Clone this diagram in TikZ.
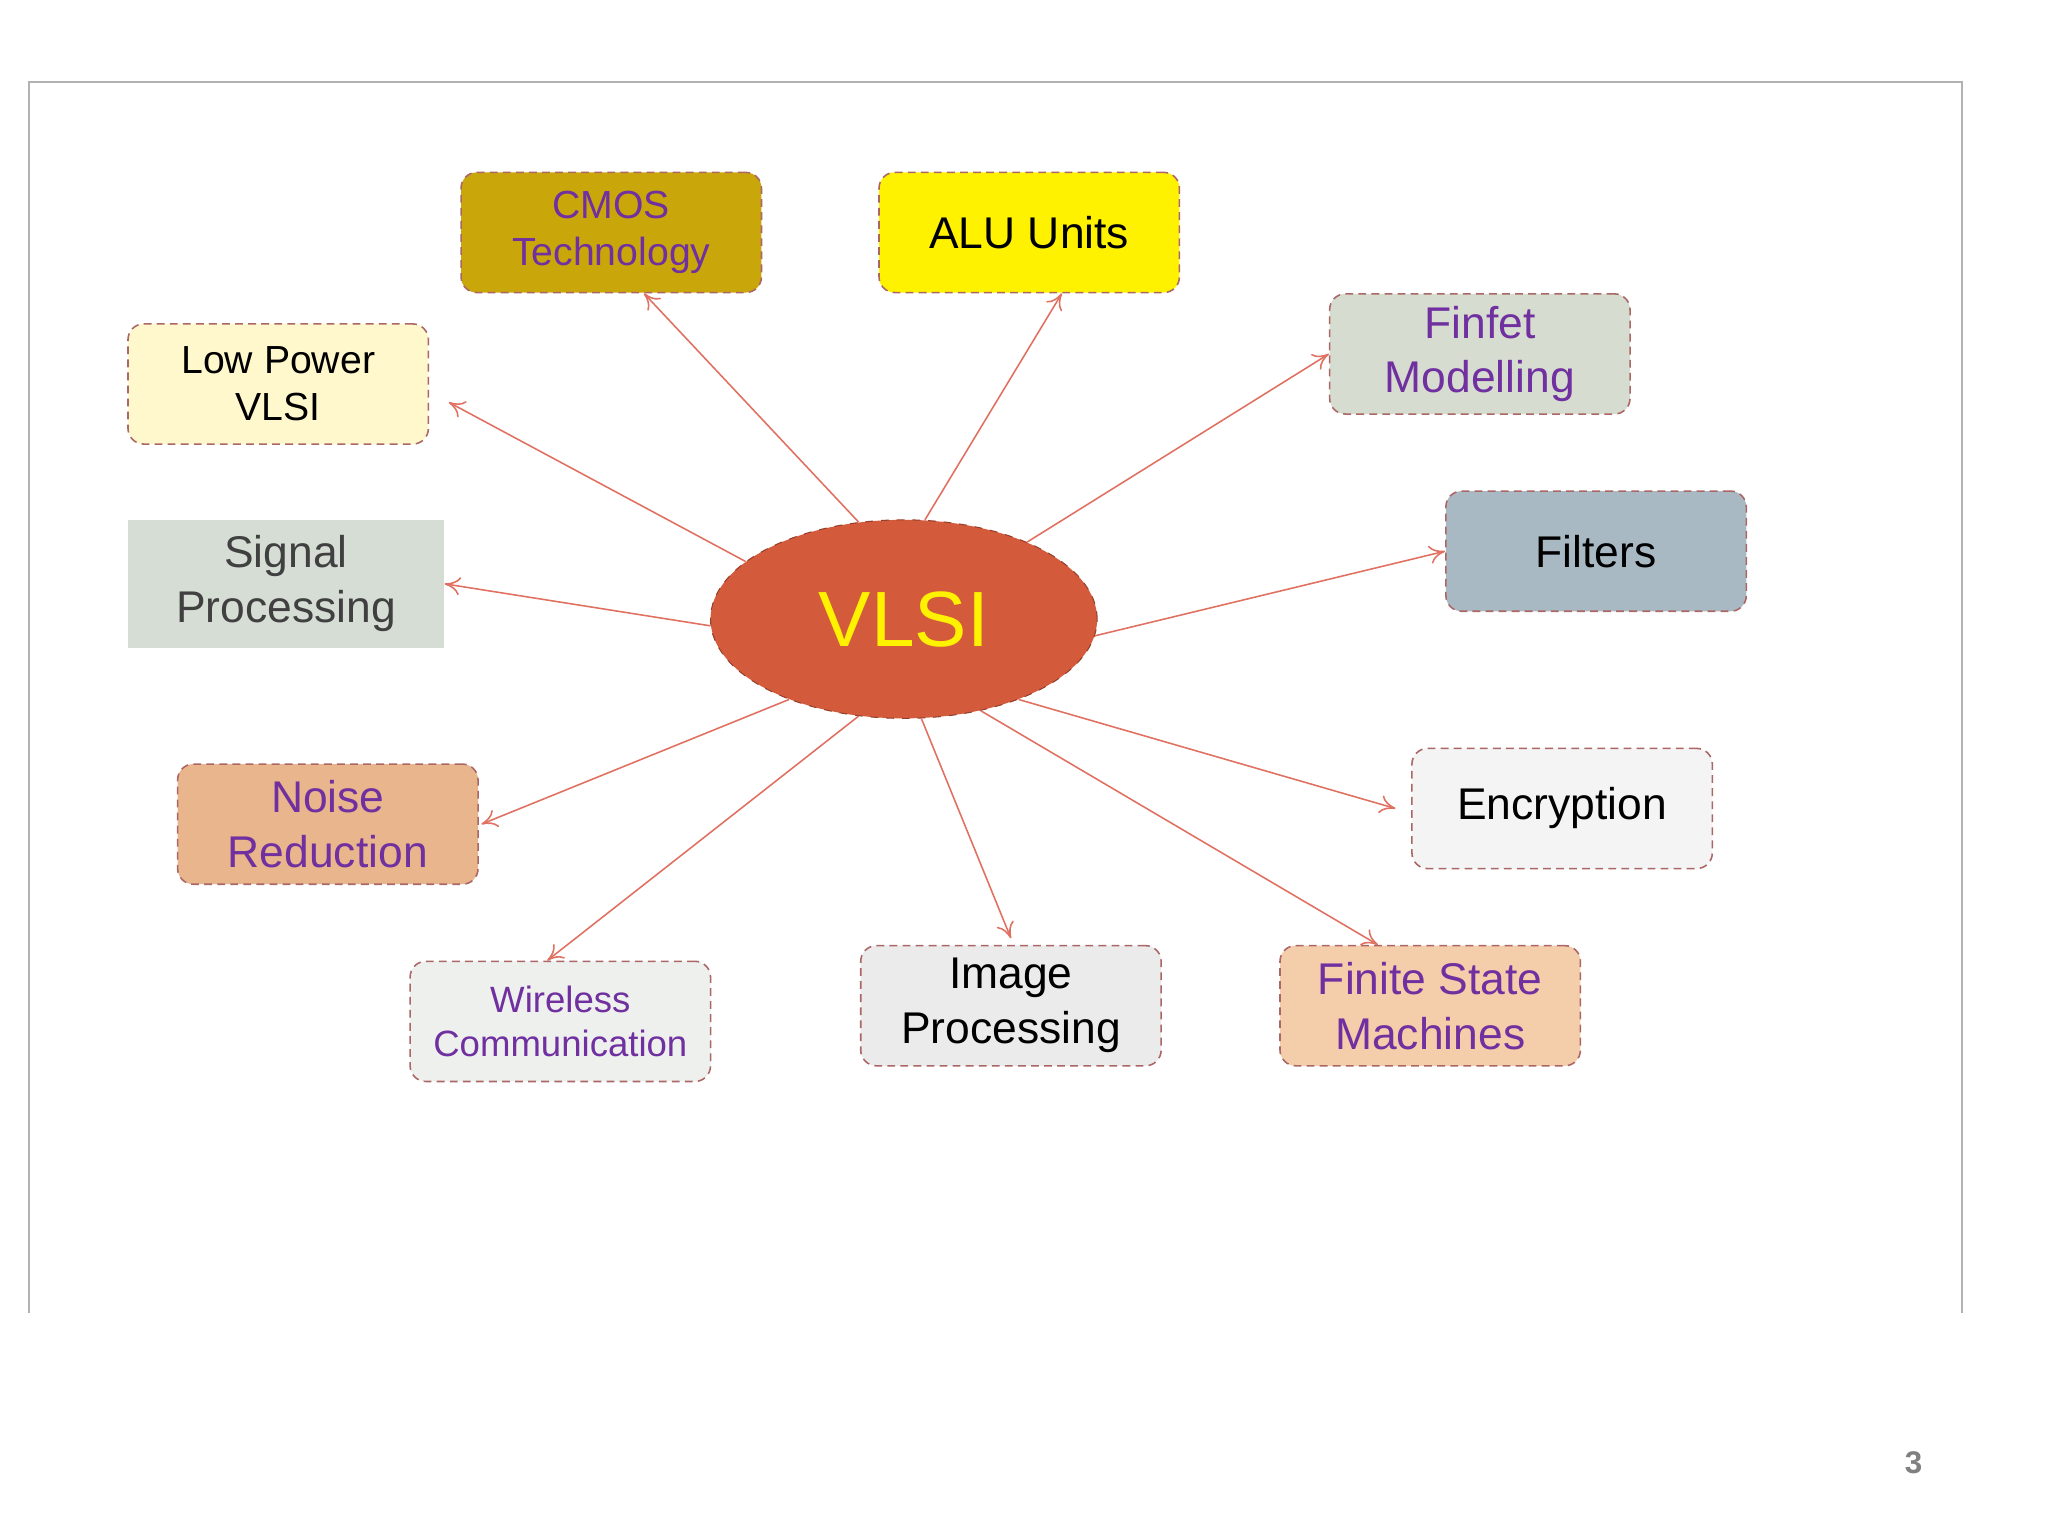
\documentclass[tikz,border=0pt]{standalone}
\usepackage{fontspec}
\setmainfont{Liberation Sans}
\usetikzlibrary{arrows.meta,shapes.geometric,calc}
\definecolor{pur}{HTML}{7030A0}
\definecolor{arr}{HTML}{E07060}
\definecolor{vl}{HTML}{D45A3C}
\begin{document}
\begin{tikzpicture}[x=0.5pt,y=-0.5pt,
  bx/.style={draw=black!55!red!60,densely dashed,line width=0.6pt,rounded corners=6pt,minimum width=115pt,minimum height=46pt,align=center,inner sep=2pt},
  ar/.style={draw=arr,line width=0.6pt,-{To[length=6pt,width=7pt]}}]
\useasboundingbox (0,0) rectangle (1568,1176);
\draw[gray!60,line width=0.8pt] (22,1005) -- (22,63) -- (1502,63) -- (1502,1005);
\node[ellipse,fill=vl,draw=vl!70!black,dashed,inner sep=0pt,minimum width=148pt,minimum height=76pt,text=yellow,font=\fontsize{30}{32}\selectfont] (v) at (692,474) {VLSI};
\node[bx,fill={rgb,255:red,201;green,167;blue,10},text=pur,font=\fontsize{15}{18}\selectfont] (cmos) at (468,178) {CMOS\\Technology};
\node[bx,fill=yellow,font=\fontsize{17}{20}\selectfont] (alu) at (788,178) {ALU Units};
\node[bx,fill={rgb,255:red,255;green,248;blue,204},font=\fontsize{15}{18}\selectfont] (lp) at (213,294) {Low Power\\VLSI};
\node[bx,fill={rgb,255:red,214;green,221;blue,208},text=pur,font=\fontsize{17}{21}\selectfont] (fin) at (1133,271) {Finfet\\Modelling};
\node[fill={rgb,255:red,213;green,221;blue,213},minimum width=121pt,minimum height=49pt,align=center,text=black!75,font=\fontsize{17}{21}\selectfont] (sig) at (219,447) {Signal\\Processing};
\node[bx,fill={rgb,255:red,169;green,185;blue,195},font=\fontsize{17}{20}\selectfont] (fil) at (1222,422) {Filters};
\node[bx,fill={rgb,255:red,232;green,181;blue,140},text=pur,font=\fontsize{17}{21}\selectfont] (noi) at (251,631) {Noise\\Reduction};
\node[bx,fill={rgb,255:red,244;green,244;blue,244},font=\fontsize{17}{20}\selectfont] (enc) at (1196,619) {Encryption};
\node[bx,fill={rgb,255:red,238;green,240;blue,238},text=pur,font=\fontsize{14}{17}\selectfont] (wir) at (429,782) {Wireless\\Communication};
\node[bx,fill={rgb,255:red,235;green,235;blue,235},font=\fontsize{17}{21}\selectfont] (img) at (774,770) {Image\\Processing};
\node[bx,fill={rgb,255:red,244;green,205;blue,170},text=pur,font=\fontsize{17}{21}\selectfont] (fsm) at (1095,770) {Finite State\\Machines};
\node[text=gray,font=\bfseries\fontsize{12}{14}\selectfont] (pg) at (1465,1120) {3};
\draw[ar] (v.115) -- ($(cmos.south)+(25,0)$);
\draw[ar] (v.78) -- ($(alu.south)+(25,0)$);
\draw[ar] (v.160) -- ($(lp.east)+(15,14)$);
\draw[ar] (v.32) -- (fin.west);
\draw[ar] (v.182) -- (sig.east);
\draw[ar] (v.-5) -- (fil.west);
\draw[ar] (v.-145) -- ($(noi.east)+(2,0)$);
\draw[ar] (v.-35) -- ($(enc.west)+(-12,0)$);
\draw[ar] (v.-115) -- ($(wir.north)+(-10,0)$);
\draw[ar] (v.-80) -- ($(img.north)+(0,-5)$);
\draw[ar] (v.-50) -- ($(fsm.north)+(-40,0)$);
\end{tikzpicture}
\end{document}
